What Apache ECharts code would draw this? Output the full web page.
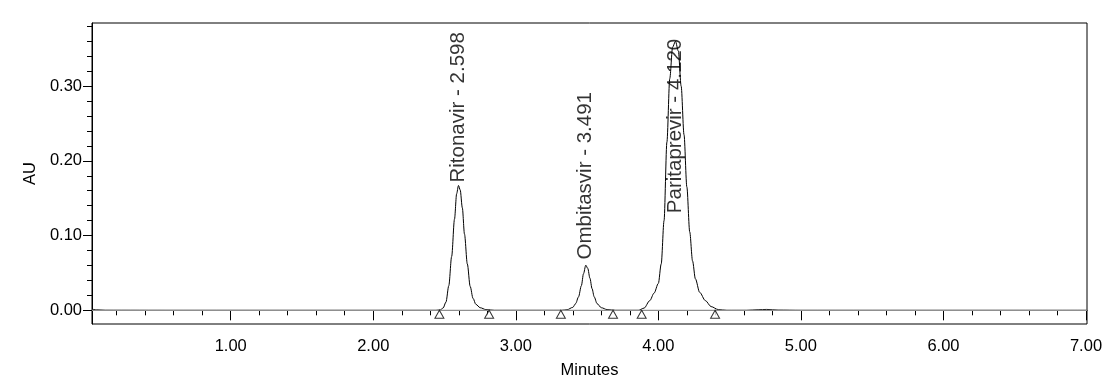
<!DOCTYPE html>
<html><head><meta charset="utf-8">
<script src="https://cdn.jsdelivr.net/npm/echarts@6/dist/echarts.min.js"></script>
<style>html,body{margin:0;padding:0;background:#fff}#c{width:1115px;height:390px}</style>
</head><body><div id="c"></div>
<script>
// axis ticks
const xMajorTicks = [1, 2, 3, 4, 5, 6, 7];
const yMajorTicks = [0, 0.1, 0.2, 0.3];
const xMinorTicks = [0.2,0.4,0.6,0.8,1.2,1.4,1.6,1.8,2.2,2.4,2.6,2.8,3.2,3.4,3.6,3.8,4.2,4.4,4.6,4.8,5.2,5.4,5.6,5.8,6.2,6.4,6.6,6.8];
const yMinorTicks = [0.02,0.04,0.06,0.08,0.12,0.14,0.16,0.18,0.22,0.24,0.26,0.28,0.32,0.34,0.36,0.38];

// chromatogram trace segments [minutes, AU]
const baselineStart = [[0.027,0.0015],[0.06,0.0007],[0.12,0.0001],[0.6,0],[1.2,0],[1.8,0],[2.3,0]];
const ritonavirPeak = [[2.44,0],[2.47,0.0006],[2.49,0.003],[2.51,0.011],[2.53,0.033],[2.55,0.072],[2.57,0.122],[2.585,0.156],[2.598,0.167],[2.61,0.161],[2.625,0.137],[2.64,0.102],[2.66,0.062],[2.68,0.032],[2.70,0.016],[2.72,0.008],[2.75,0.0035],[2.79,0.001],[2.85,0]];
const ombitasvirPeak = [[3.32,0],[3.36,0.0008],[3.40,0.004],[3.42,0.009],[3.44,0.018],[3.46,0.033],[3.475,0.049],[3.491,0.0604],[3.505,0.056],[3.52,0.043],[3.535,0.029],[3.55,0.018],[3.57,0.009],[3.60,0.0035],[3.64,0.001],[3.70,0]];
const paritaprevirPeak = [[3.86,0],[3.90,0.003],[3.94,0.013],[3.97,0.023],[4.00,0.036],[4.02,0.062],[4.04,0.12],[4.06,0.225],[4.08,0.31],[4.10,0.352],[4.12,0.36],[4.14,0.347],[4.16,0.30],[4.18,0.235],[4.20,0.165],[4.22,0.105],[4.24,0.066],[4.26,0.042],[4.29,0.024],[4.33,0.013],[4.37,0.005],[4.42,0.001],[4.48,0]];
const baselineEnd = [[4.62,0],[4.70,0.0008],[4.76,0.0012],[4.84,0.0003],[5.0,0],[6.0,0],[7.007,0]];

// peak annotations
const peakNames = ['Ritonavir', 'Ombitasvir', 'Paritaprevir'];
const peakRT = [2.598, 3.491, 4.120];
const peakLabelAU = [0.171, 0.068, 0.130];
const integrationMarks = [2.464, 2.813, 3.316, 3.682, 3.883, 4.398];

const X_MIN = 0.027, X_MAX = 7.007, Y_MIN = -0.0183, Y_MAX = 0.3844;
const FONT = 'Liberation Sans, Arial, sans-serif';
const trace = [].concat(baselineStart, ritonavirPeak, ombitasvirPeak, paritaprevirPeak, baselineEnd);

const chart = echarts.init(document.getElementById('c'), null, {renderer: 'canvas'});
chart.setOption({
  animation: false,
  backgroundColor: '#fff',
  grid: {left: 92, right: 28, top: 23, bottom: 66, show: true, borderColor: '#000', borderWidth: 1, backgroundColor: 'transparent'},
  xAxis: [
    {type: 'value', min: X_MIN, max: X_MAX, position: 'bottom',
     axisLine: {show: true, lineStyle: {color: '#000', width: 1}},
     axisTick: {show: true, customValues: xMajorTicks, length: 10, lineStyle: {color: '#000'}},
     axisLabel: {show: true, customValues: xMajorTicks, formatter: v => v.toFixed(2), fontSize: 16.5, color: '#000', fontFamily: FONT, margin: 14},
     splitLine: {show: false},
     name: 'Minutes', nameLocation: 'middle', nameGap: 38,
     nameTextStyle: {fontSize: 16.5, color: '#000', fontFamily: FONT}},
    {type: 'value', min: X_MIN, max: X_MAX, position: 'bottom',
     axisLine: {show: false},
     axisTick: {show: true, customValues: xMinorTicks, length: 5, lineStyle: {color: '#000'}},
     axisLabel: {show: false}, splitLine: {show: false}}
  ],
  yAxis: [
    {type: 'value', min: Y_MIN, max: Y_MAX, position: 'left',
     axisLine: {show: true, lineStyle: {color: '#000', width: 1}},
     axisTick: {show: true, customValues: yMajorTicks, length: 9, lineStyle: {color: '#000'}},
     axisLabel: {show: true, customValues: yMajorTicks, formatter: v => v.toFixed(2), fontSize: 16.5, color: '#000', fontFamily: FONT, margin: 10},
     splitLine: {show: false},
     name: 'AU', nameLocation: 'middle', nameGap: 49, nameRotate: 90,
     nameTextStyle: {fontSize: 16.5, color: '#000', fontFamily: FONT}},
    {type: 'value', min: Y_MIN, max: Y_MAX, position: 'left',
     axisLine: {show: false},
     axisTick: {show: true, customValues: yMinorTicks, length: 5, lineStyle: {color: '#000'}},
     axisLabel: {show: false}, splitLine: {show: false}}
  ],
  series: [
    {type: 'line', data: trace, showSymbol: false, smooth: 0.3, smoothMonotone: 'x',
     lineStyle: {color: '#000', width: 1}, z: 2, silent: true},
    {type: 'line', data: [[X_MIN, 0], [X_MAX, 0]], showSymbol: false,
     lineStyle: {color: '#8f8f8f', width: 1.2}, z: 3, silent: true},
    {type: 'scatter', data: integrationMarks.map(x => [x, 0]), symbol: 'triangle', symbolSize: [9, 8], symbolOffset: [0, 4],
     itemStyle: {color: '#fff', borderColor: '#000', borderWidth: 1}, z: 4, silent: true},
    {type: 'scatter', data: peakRT.map((rt, i) => ({value: [rt, peakLabelAU[i]], name: peakNames[i] + ' - ' + rt.toFixed(3)})),
     symbolSize: 1, itemStyle: {color: 'rgba(0,0,0,0)'}, z: 5, silent: true,
     label: {show: true, position: 'inside', formatter: p => p.name, rotate: 90, align: 'left', verticalAlign: 'middle',
             fontSize: 20.5, color: '#000', fontFamily: FONT}}
  ]
});
</script></body></html>
